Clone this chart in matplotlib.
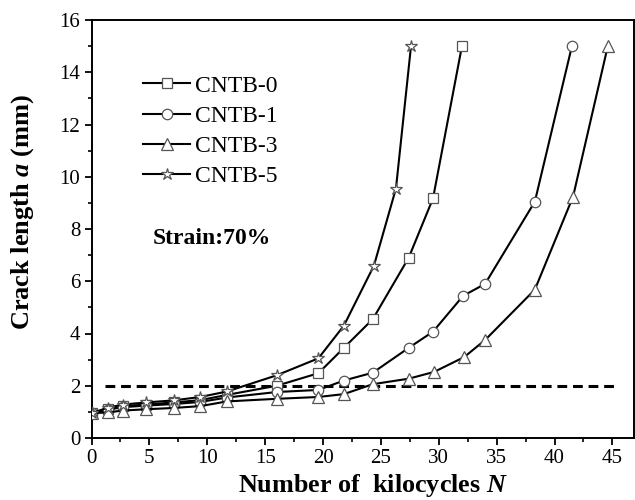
import numpy as np
import matplotlib
matplotlib.use('Agg')
import matplotlib.pyplot as plt
from matplotlib.ticker import MultipleLocator

plt.rcParams['font.family'] = ['Liberation Serif', 'DejaVu Serif']
plt.rcParams['mathtext.fontset'] = 'custom'
plt.rcParams['mathtext.it'] = 'Liberation Serif:bold:italic'
plt.rcParams['mathtext.rm'] = 'Liberation Serif:bold'

# crack growth data (kilocycles, mm)
n_cntb0 = [0, 1.4, 2.7, 4.7, 7.1, 9.4, 11.7, 16.0, 19.6, 21.8, 24.3, 27.4, 29.5, 32.0]
a_cntb0 = [0.95, 1.12, 1.22, 1.28, 1.36, 1.45, 1.65, 2.0, 2.48, 3.45, 4.55, 6.9, 9.17, 15.0]

n_cntb1 = [0, 1.4, 2.7, 4.7, 7.1, 9.4, 11.7, 16.0, 19.6, 21.8, 24.3, 27.4, 29.5, 32.1, 34.0, 38.3, 41.5]
a_cntb1 = [0.95, 1.08, 1.18, 1.24, 1.3, 1.38, 1.55, 1.76, 1.84, 2.2, 2.5, 3.45, 4.07, 5.44, 5.9, 9.05, 15.0]

n_cntb3 = [0, 1.4, 2.7, 4.7, 7.1, 9.4, 11.7, 16.0, 19.6, 21.8, 24.3, 27.4, 29.6, 32.2, 34.0, 38.3, 41.6, 44.6]
a_cntb3 = [0.95, 0.98, 1.05, 1.1, 1.15, 1.22, 1.4, 1.5, 1.57, 1.68, 2.06, 2.27, 2.53, 3.1, 3.75, 5.68, 9.24, 15.0]

n_cntb5 = [0, 1.4, 2.7, 4.7, 7.1, 9.4, 11.7, 16.0, 19.6, 21.8, 24.4, 26.3, 27.6]
a_cntb5 = [0.95, 1.16, 1.28, 1.36, 1.44, 1.57, 1.78, 2.4, 3.05, 4.3, 6.6, 9.55, 15.0]

labels = ['CNTB-0', 'CNTB-1', 'CNTB-3', 'CNTB-5']
markers = ['s', 'o', '^', '*']
sizes = [6.5, 7.5, 8, 9]

critical_a = 2.0
critical_n = [1.15, 45.2]

fig = plt.figure(figsize=(6.35, 5), dpi=100)
ax = fig.add_axes([0.1441, 0.124, 0.855, 0.836])

series = [(n_cntb0, a_cntb0), (n_cntb1, a_cntb1), (n_cntb3, a_cntb3), (n_cntb5, a_cntb5)]
for (n, a), lab, m, ms in zip(series, labels, markers, sizes):
    ax.plot(n, a, color='black', lw=1.5, marker=m, ms=ms, mfc='white',
            mec='#555555', mew=0.9, label=lab, zorder=3)

ax.plot(critical_n, [critical_a, critical_a], color='black', lw=2.2,
        dashes=(3.2, 1.9), zorder=2)

ax.set_xlim(0, 46.9)
ax.set_ylim(0, 16)
ax.xaxis.set_major_locator(MultipleLocator(5))
ax.xaxis.set_minor_locator(MultipleLocator(2.5))
ax.yaxis.set_major_locator(MultipleLocator(2))
ax.yaxis.set_minor_locator(MultipleLocator(1))
ax.tick_params(which='major', direction='out', length=5, width=1.3, labelsize=15, pad=3)
ax.tick_params(which='minor', direction='out', length=3, width=1.2)
for s in ax.spines.values():
    s.set_linewidth(1.4)

ax.set_xlabel(r'Number of  kilocycles $N$', fontsize=18.8, fontweight='bold')
ax.set_ylabel(r'Crack length $a$ (mm)', fontsize=19, fontweight='bold')
ax.xaxis.set_label_coords(0.518, -0.081)
ax.yaxis.set_label_coords(-0.103, 0.54)

ax.text(0.113, 0.478, 'Strain:70%', transform=ax.transAxes, fontsize=17,
        fontweight='bold', va='center', ha='left')

leg = ax.legend(loc='upper left', bbox_to_anchor=(0.095, 0.868), frameon=False,
                fontsize=17, handlelength=2.0, handletextpad=0.2,
                labelspacing=0.37, borderpad=0, borderaxespad=0)

fig.savefig('out.png', dpi=100)
